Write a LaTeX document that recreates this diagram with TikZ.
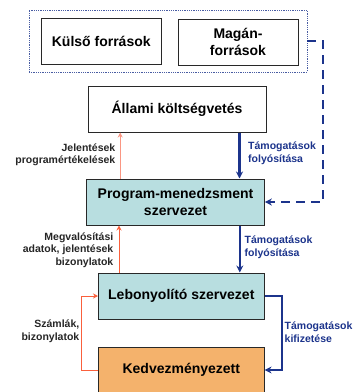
\documentclass[tikz,border=0pt]{standalone}
\usepackage{fontspec}
\setmainfont{Liberation Sans}
\usetikzlibrary{arrows.meta}
\definecolor{navy}{RGB}{28,52,140}
\definecolor{tealfill}{RGB}{184,222,224}
\definecolor{orangefill}{RGB}{244,178,108}
\definecolor{redline}{RGB}{250,96,60}
\definecolor{salmon}{RGB}{250,150,130}
\definecolor{boxline}{RGB}{40,40,40}
\begin{document}
\begin{tikzpicture}[x=1pt,y=-1pt,
  box/.style={draw=boxline,line width=1pt,minimum height=46pt,inner sep=0pt,
    font=\fontsize{14}{17.5}\selectfont\bfseries,align=center},
  lbl/.style={font=\fontsize{10.5}{12.5}\selectfont\bfseries,inner sep=0pt},
  bluelbl/.style={lbl,text=navy,align=left,anchor=west},
  darklbl/.style={lbl,text=black!85,align=right,anchor=east},
  bluearrow/.style={draw=navy,line width=2.2pt,-{Stealth[length=7pt,width=7pt]}},
  dashedarrow/.style={bluearrow,dash pattern=on 9pt off 6pt},
  redarrow/.style={draw=redline,line width=1pt,-{Stealth[length=5pt,width=5pt]}},
  salmonarrow/.style={draw=salmon,line width=1pt,-{Stealth[length=5pt,width=5pt]}}]
\useasboundingbox (0,0) rectangle (354,392);
\fill[white] (0,0) rectangle (354,392);

% funding sources
\node[draw=navy!80,dash pattern=on 0.8pt off 1pt,line width=0.8pt,minimum width=278pt,minimum height=62pt,inner sep=0pt] (forrasok) at (168,41) {};
\node[box,minimum width=119.5pt] (kulso) at (101.25,41) {Külső források};
\node[box,minimum width=120pt] (magan) at (238,42) {Magán-\\források};

% chain of organisations
\node[box,minimum width=178pt] (allami) at (177,109) {Állami költségvetés};
\node[box,fill=tealfill,minimum width=177.6pt] (pm) at (175.5,202) {Program-menedzsment\\szervezet};
\node[box,fill=tealfill,minimum width=165.6pt] (leb) at (181.3,296) {Lebonyolító szervezet};
\node[box,fill=orangefill,minimum width=165.6pt] (kedv) at (181.3,370) {Kedvezményezett};

% money flow
\coordinate (dc) at (323,202);
\draw[dashedarrow] (forrasok.east) -| (dc) -- (pm.east);
\draw[bluearrow] ([xshift=-27pt]allami.south east) -- ([xshift=-27pt]allami.south east |- pm.north);
\draw[bluearrow] ([xshift=-25pt]pm.south east) -- ([xshift=-25pt]pm.south east |- leb.north);
\draw[bluearrow] (leb.east) -- ++(17,0) |- (kedv.east);

% reporting flow
\draw[salmonarrow] ([xshift=34pt]pm.north west) -- ([xshift=34pt]pm.north west |- allami.south);
\draw[redarrow] ([xshift=21pt]leb.north west) -- ([xshift=21pt]leb.north west |- pm.south);
\draw[redarrow] (kedv.west) -- ++(-16.5,0) |- (leb.west);

% labels
\node[darklbl] (l1) at (115.5,155) {Jelentések\\programértékelések};
\node[bluelbl] (l2) at (248,153) {Támogatások\\folyósítása};
\node[bluelbl] (l3) at (244.5,247) {Támogatások\\folyósítása};
\node[darklbl] (l4) at (113.5,250) {Megvalósítási\\adatok, jelentések\\bizonylatok};
\node[darklbl] (l5) at (79.5,331) {Számlák,\\bizonylatok};
\node[bluelbl] (l6) at (284.5,332) {Támogatások\\kifizetése};
\end{tikzpicture}
\end{document}
